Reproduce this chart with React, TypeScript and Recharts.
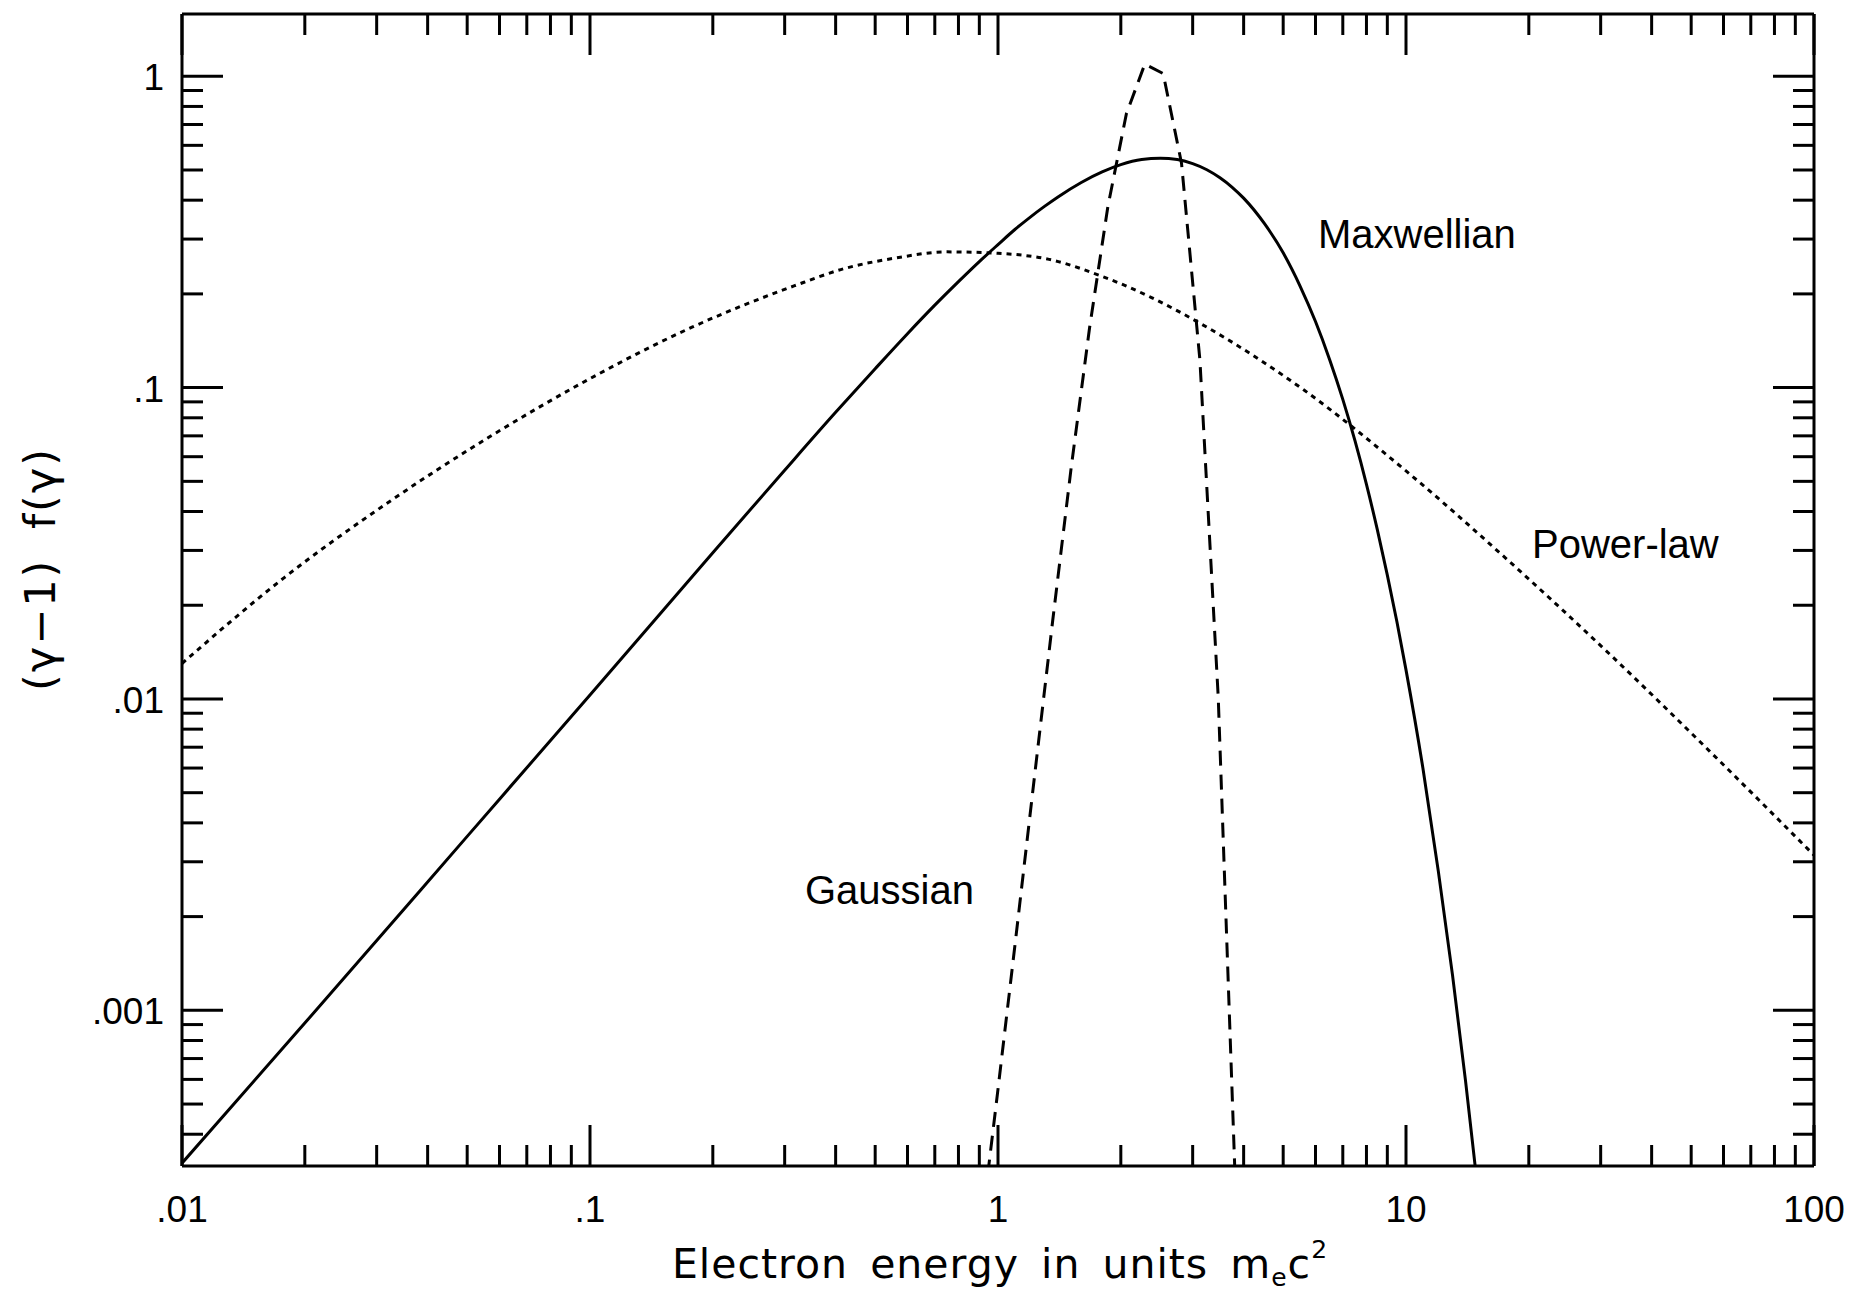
import React from "react";
import { LineChart, Line, XAxis, YAxis } from "recharts";

// axis decades and minor steps
const xDecades = [0.01, 0.1, 1, 10, 100];
const yDecades = [0.0001, 0.001, 0.01, 0.1, 1];
const minorSteps = [2, 3, 4, 5, 6, 7, 8, 9];
const xDomain = [0.01, 100];
const yDomain = [3.1623e-4, 1.5849];

// Maxwellian (solid)
const maxwellianX = [
  0.01, 0.02, 0.05, 0.1, 0.2, 0.3, 0.4, 0.5, 0.6, 0.7, 0.8, 0.9, 1.0, 1.1, 1.2,
  1.3, 1.4, 1.6, 1.8, 2.0, 2.25, 2.5, 2.75, 3.0, 3.25, 3.5, 3.75, 4.0, 4.5, 5.0,
  5.5, 6.0, 6.5, 7.0, 7.5, 8.0, 8.5, 9.0, 9.5, 10, 11, 12, 13, 14, 15,
];
const maxwellianY = [
  3.23e-4, 9.1e-4, 3.62e-3, 0.0103, 0.0295, 0.0543, 0.0833, 0.115, 0.149, 0.184,
  0.219, 0.254, 0.288, 0.322, 0.353, 0.382, 0.409, 0.456, 0.493, 0.52, 0.54,
  0.545, 0.54, 0.524, 0.501, 0.472, 0.44, 0.406, 0.336, 0.271, 0.212, 0.163,
  0.123, 0.0917, 0.0674, 0.0489, 0.0351, 0.025, 0.0177, 0.0124, 0.006, 0.0028,
  0.0013, 5.9e-4, 2.65e-4,
];

// Gaussian (dashed)
const gaussianX = [
  0.899, 0.997, 1.107, 1.228, 1.362, 1.511, 1.677, 1.86, 2.064, 2.29, 2.54,
  2.817, 3.125, 3.466, 3.845,
];
const gaussianY = [
  1.75e-4, 5.4e-4, 1.73e-3, 5.6e-3, 0.0179, 0.0552, 0.156, 0.383, 0.758, 1.094,
  1.02, 0.526, 0.1227, 0.0101, 2.1e-4,
];

// Power-law (dotted)
const powerLawX = [
  0.01, 0.01778, 0.03162, 0.05623, 0.1, 0.1778, 0.3162, 0.4217, 0.5623, 0.75,
  1.0, 1.334, 1.778, 2.371, 3.162, 5.623, 10, 17.78, 31.62, 56.23, 100,
];
const powerLawY = [
  0.013, 0.0245, 0.0423, 0.069, 0.1069, 0.1563, 0.2121, 0.2415, 0.2609, 0.2729,
  0.27, 0.2582, 0.2291, 0.195, 0.1596, 0.0982, 0.054, 0.0279, 0.0139, 0.00668,
  0.00315,
];

const zip = (xs: number[], ys: number[]) => xs.map((x, i) => ({ x, y: ys[i] }));
const maxwellian = zip(maxwellianX, maxwellianY);
const gaussian = zip(gaussianX, gaussianY);
const powerLaw = zip(powerLawX, powerLawY);

const withMinors = (decades: number[], lo: number, hi: number) =>
  decades
    .flatMap((d) => [d, ...minorSteps.map((m) => m * d)])
    .filter((v) => v >= lo && v <= hi);

const xTicks = withMinors(xDecades, xDomain[0], xDomain[1]);
const yTicks = withMinors(yDecades, yDomain[0], yDomain[1]);

const isMajor = (v: number) => {
  const l = Math.log10(v);
  return Math.abs(l - Math.round(l)) < 1e-9;
};
const fmt = (v: number) => (v < 1 ? String(v).slice(1) : String(v));

const MAJOR = 41;
const MINOR = 21;
const labelFont = "'Liberation Sans', Arial, sans-serif";
const titleFont = "'DejaVu Sans', sans-serif";

function makeTick(side: "bottom" | "top" | "left" | "right") {
  return (props: any) => {
    const { x, y, payload } = props;
    const v = payload.value;
    const major = isMajor(v);
    const len = major ? MAJOR : MINOR;
    let line;
    if (side === "bottom") line = <line x1={x} x2={x} y1={y} y2={y - len} />;
    else if (side === "top") line = <line x1={x} x2={x} y1={y} y2={y + len} />;
    else if (side === "left") line = <line x1={x} x2={x + len} y1={y} y2={y} />;
    else line = <line x1={x} x2={x - len} y1={y} y2={y} />;
    return (
      <g stroke="#000" strokeWidth={3}>
        {line}
        {major && side === "bottom" && (
          <text x={x} y={y + 56} textAnchor="middle" stroke="none" fill="#000" fontFamily={labelFont} fontSize={37}>
            {fmt(v)}
          </text>
        )}
        {major && side === "left" && (
          <text x={x - 18} y={y + 14} textAnchor="end" stroke="none" fill="#000" fontFamily={labelFont} fontSize={37}>
            {fmt(v)}
          </text>
        )}
      </g>
    );
  };
}

const axisLine = { stroke: "#000", strokeWidth: 3 };
const W = 1847;
const H = 1285;

export default function App() {
  return (
    <div style={{ position: "relative", width: W, height: H, background: "#fff" }}>
      <LineChart width={W} height={H} margin={{ top: 0, right: 0, bottom: 0, left: 0 }}>
        <XAxis
          xAxisId="b"
          orientation="bottom"
          dataKey="x"
          type="number"
          scale="log"
          domain={xDomain}
          allowDataOverflow
          ticks={xTicks}
          interval={0}
          height={127}
          tickSize={0}
          tickMargin={0}
          tickLine={false}
          axisLine={axisLine}
          tick={makeTick("bottom")}
        />
        <XAxis
          xAxisId="t"
          orientation="top"
          dataKey="x"
          type="number"
          scale="log"
          domain={xDomain}
          allowDataOverflow
          ticks={xTicks}
          interval={0}
          height={6}
          tickSize={0}
          tickMargin={0}
          tickLine={false}
          axisLine={axisLine}
          tick={makeTick("top")}
        />
        <YAxis
          yAxisId="l"
          orientation="left"
          type="number"
          scale="log"
          domain={yDomain}
          allowDataOverflow
          ticks={yTicks}
          interval={0}
          width={174}
          tickSize={0}
          tickMargin={0}
          tickLine={false}
          axisLine={axisLine}
          tick={makeTick("left")}
        />
        <YAxis
          yAxisId="r"
          orientation="right"
          type="number"
          scale="log"
          domain={yDomain}
          allowDataOverflow
          ticks={yTicks}
          interval={0}
          width={41}
          tickSize={0}
          tickMargin={0}
          tickLine={false}
          axisLine={axisLine}
          tick={makeTick("right")}
        />
        <Line
          xAxisId="b"
          yAxisId="l"
          data={powerLaw}
          dataKey="y"
          type="monotone"
          stroke="#000"
          strokeWidth={3}
          strokeDasharray="5 5"
          dot={false}
          activeDot={false}
          isAnimationActive={false}
        />
        <Line
          xAxisId="b"
          yAxisId="l"
          data={gaussian}
          dataKey="y"
          type="linear"
          stroke="#000"
          strokeWidth={3}
          strokeDasharray="15 9"
          dot={false}
          activeDot={false}
          isAnimationActive={false}
        />
        <Line
          xAxisId="b"
          yAxisId="l"
          data={maxwellian}
          dataKey="y"
          type="monotone"
          stroke="#000"
          strokeWidth={3}
          dot={false}
          activeDot={false}
          isAnimationActive={false}
        />
      </LineChart>
      <svg
        width={W}
        height={H}
        style={{ position: "absolute", left: 0, top: 0, pointerEvents: "none" }}
      >
        <g fontFamily={labelFont} fontSize={40} fill="#000">
          <text x={1310} y={240}>Maxwellian</text>
          <text x={1524} y={550}>Power-law</text>
          <text x={797} y={896}>Gaussian</text>
        </g>
        <text
          x={992}
          y={1270}
          textAnchor="middle"
          fontFamily={titleFont}
          fontSize={41}
          letterSpacing={1}
          wordSpacing={8}
          fill="#000"
        >
          Electron energy in units m
          <tspan fontSize={25} dy={8}>e</tspan>
          <tspan dy={-8}>c</tspan>
          <tspan fontSize={25} dy={-20}>2</tspan>
        </text>
        <text
          transform="translate(47,561) rotate(-90)"
          x={0}
          y={0}
          textAnchor="middle"
          fontFamily={titleFont}
          fontSize={43}
          letterSpacing={2}
          wordSpacing={14}
          fill="#000"
        >
          (γ−1) f(γ)
        </text>
      </svg>
    </div>
  );
}
